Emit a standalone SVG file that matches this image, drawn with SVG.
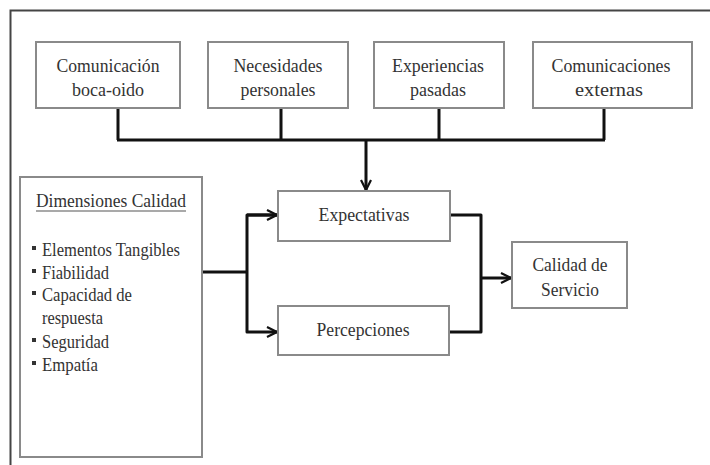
<svg xmlns="http://www.w3.org/2000/svg" width="710" height="465" viewBox="0 0 710 465">
<defs>
<style>
.box{fill:#fff;stroke:#8a8a8a;stroke-width:2}
.t{font-family:"Liberation Serif","Times New Roman",serif;font-size:19px;fill:#333;text-anchor:middle}
.l{font-family:"Liberation Serif","Times New Roman",serif;font-size:19px;fill:#333}
.c{fill:none;stroke:#111;stroke-width:3;stroke-linejoin:round}
.bul{fill:#333}
</style>
<marker id="arr" viewBox="0 0 12 12" refX="11" refY="6" markerWidth="12" markerHeight="12" markerUnits="userSpaceOnUse" orient="auto">
<path d="M1,1 L11,6 L1,11" fill="none" stroke="#111" stroke-width="2.2"/>
</marker>
</defs>
<rect width="710" height="465" fill="#fff"/>
<path d="M10.5,470 V10.5 H715" fill="none" stroke="#444" stroke-width="2"/>

<g id="connectors">
<path class="c" d="M118,108 V140 M281,108 V140 M439,108 V140 M604,108 V140 M117,140 H605"/>
<path class="c" d="M366,140 V190" marker-end="url(#arr)"/>
<path class="c" d="M202,272 H247"/>
<path class="c" d="M277,215 H247 V332 H277" marker-end="url(#arr)"/>
<path class="c" d="M247,215 H277" marker-end="url(#arr)"/>
<path class="c" d="M450,215 H481 V332 H449"/>
<path class="c" d="M481,278 H511" marker-end="url(#arr)"/>
</g>

<g id="n1"><rect class="box" x="36" y="42" width="144" height="66"/><text class="t" x="108" y="72" textLength="103" lengthAdjust="spacingAndGlyphs">Comunicación</text><text class="t" x="108" y="96" textLength="72" lengthAdjust="spacingAndGlyphs">boca-oido</text></g>
<g id="n2"><rect class="box" x="208" y="42" width="140" height="66"/><text class="t" x="278" y="72" textLength="89" lengthAdjust="spacingAndGlyphs">Necesidades</text><text class="t" x="278" y="96" textLength="75" lengthAdjust="spacingAndGlyphs">personales</text></g>
<g id="n3"><rect class="box" x="374" y="42" width="130" height="66"/><text class="t" x="438" y="72" textLength="92" lengthAdjust="spacingAndGlyphs">Experiencias</text><text class="t" x="438" y="96" textLength="56" lengthAdjust="spacingAndGlyphs">pasadas</text></g>
<g id="n4"><rect class="box" x="533" y="42" width="159" height="66"/><text class="t" x="611" y="72" textLength="119" lengthAdjust="spacingAndGlyphs">Comunicaciones</text><text class="t" x="609" y="96" textLength="68" lengthAdjust="spacingAndGlyphs">externas</text></g>

<g id="exp"><rect class="box" x="278" y="191" width="172" height="50"/><text class="t" x="364" y="221" textLength="91" lengthAdjust="spacingAndGlyphs">Expectativas</text></g>
<g id="per"><rect class="box" x="278" y="306" width="171" height="49"/><text class="t" x="363" y="336" textLength="93" lengthAdjust="spacingAndGlyphs">Percepciones</text></g>
<g id="cal"><rect class="box" x="512" y="242" width="115" height="66"/><text class="t" x="570" y="271" textLength="75" lengthAdjust="spacingAndGlyphs">Calidad de</text><text class="t" x="570" y="296" textLength="58" lengthAdjust="spacingAndGlyphs">Servicio</text></g>

<g id="dim">
<rect class="box" x="20" y="177" width="182" height="280"/>
<text class="l" x="36" y="207" textLength="150" lengthAdjust="spacingAndGlyphs">Dimensiones Calidad</text>
<line x1="36" y1="211" x2="186" y2="211" stroke="#555" stroke-width="1.2"/>
<rect class="bul" x="32" y="246" width="4" height="4"/><text class="l" x="42" y="256" textLength="138" lengthAdjust="spacingAndGlyphs">Elementos Tangibles</text>
<rect class="bul" x="32" y="269" width="4" height="4"/><text class="l" x="42" y="279" textLength="67" lengthAdjust="spacingAndGlyphs">Fiabilidad</text>
<rect class="bul" x="32" y="291" width="4" height="4"/><text class="l" x="42" y="301" textLength="90" lengthAdjust="spacingAndGlyphs">Capacidad de</text>
<text class="l" x="42" y="324" textLength="61" lengthAdjust="spacingAndGlyphs">respuesta</text>
<rect class="bul" x="32" y="338" width="4" height="4"/><text class="l" x="42" y="348" textLength="67" lengthAdjust="spacingAndGlyphs">Seguridad</text>
<rect class="bul" x="32" y="361" width="4" height="4"/><text class="l" x="42" y="371" textLength="56" lengthAdjust="spacingAndGlyphs">Empatía</text>
</g>
</svg>
